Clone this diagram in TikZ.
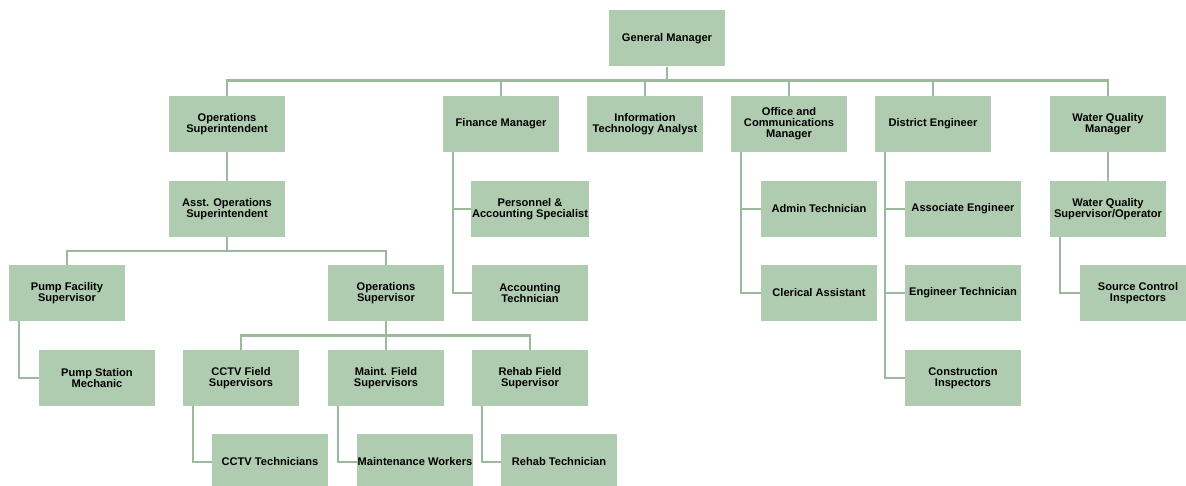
\documentclass[tikz,border=0pt]{standalone}
\usepackage{fontspec}
\setmainfont{Liberation Sans}
\usepackage{tikz}
\usetikzlibrary{calc,positioning}
\definecolor{boxgreen}{RGB}{176,204,176}
\definecolor{linegreen}{RGB}{155,185,155}
\tikzstyle{box} = [fill=boxgreen, minimum width=116pt, minimum height=56pt, inner sep=1pt, align=center, font=\fontsize{11.1}{11}\selectfont\bfseries]
\tikzstyle{conn} = [draw=linegreen, line width=2.6pt]

\begin{document}
\begin{tikzpicture}[x=1pt,y=-1pt]
	\clip (0,0) rectangle (1186,486);

	% Geschaeftsfuehrung
	\node[box] (gm) at (667,38.5) {General Manager};

	% Ebene 1
	\node[box] (ops)  at (227,124) {Operations\\Superintendent};
	\node[box] (fin)  at (501,124) {Finance Manager};
	\node[box] (it)   at (645,124) {Information\\Technology Analyst};
	\node[box] (off)  at (789,124) {Office and\\Communications\\Manager};
	\node[box] (dist) at (933,124) {District Engineer};
	\node[box] (wqm)  at (1108,124) {Water Quality\\Manager};

	% Ebene 2
	\node[box] (aos) at (227,209) {Asst. Operations\\Superintendent};
	\node[box] (pas) at (530,209) {Personnel \&\\Accounting Specialist};
	\node[box] (adm) at (819,209) {Admin Technician};
	\node[box] (ae)  at (963,209) {Associate Engineer};
	\node[box] (wqs) at (1108,209) {Water Quality\\Supervisor/Operator};

	% Ebene 3
	\node[box] (pfs)  at (67,293) {Pump Facility\\Supervisor};
	\node[box] (osup) at (386,293) {Operations\\Supervisor};
	\node[box] (act)  at (530,293) {Accounting\\Technician};
	\node[box] (cla)  at (819,293) {Clerical Assistant};
	\node[box] (et)   at (963,293) {Engineer Technician};
	\node[box] (sci)  at (1138,293) {Source Control\\Inspectors};

	% Ebene 4
	\node[box] (psm)  at (97,378) {Pump Station\\Mechanic};
	\node[box] (cctv) at (241,378) {CCTV Field\\Supervisors};
	\node[box] (mfs)  at (386,378) {Maint. Field\\Supervisors};
	\node[box] (rfs)  at (530,378) {Rehab Field\\Supervisor};
	\node[box] (ci)   at (963,378) {Construction\\Inspectors};

	% Ebene 5
	\node[box] (ctech) at (270,462) {CCTV Technicians};
	\node[box] (mw)    at (415,462) {Maintenance Workers};
	\node[box] (rt)    at (559,462) {Rehab Technician};

	% Verbindungen
	\coordinate (gmbus) at ($(gm.south)+(0,14)$);
	\foreach \n in {ops,fin,it,off,dist,wqm}
		\draw[conn] (gm.south) -- (gmbus) -| (\n.north);
	\draw[conn] (ops.south) -- (aos.north);
	\draw[conn] (wqm.south) -- (wqs.north);

	\coordinate (aosbus) at ($(aos.south)+(0,14)$);
	\foreach \n in {pfs,osup}
		\draw[conn] (aos.south) -- (aosbus) -| (\n.north);

	\coordinate (osbus) at ($(osup.south)+(0,14)$);
	\foreach \n in {cctv,mfs,rfs}
		\draw[conn] (osup.south) -- (osbus) -| (\n.north);

	% Seitliche Zuordnungen
	\foreach \a/\b in {fin/pas,fin/act,off/adm,off/cla,dist/ae,dist/et,dist/ci,
			wqs/sci,pfs/psm,cctv/ctech,mfs/mw,rfs/rt}
		\draw[conn] ([xshift=10pt]\a.south west) |- (\b.west);
\end{tikzpicture}
\end{document}
